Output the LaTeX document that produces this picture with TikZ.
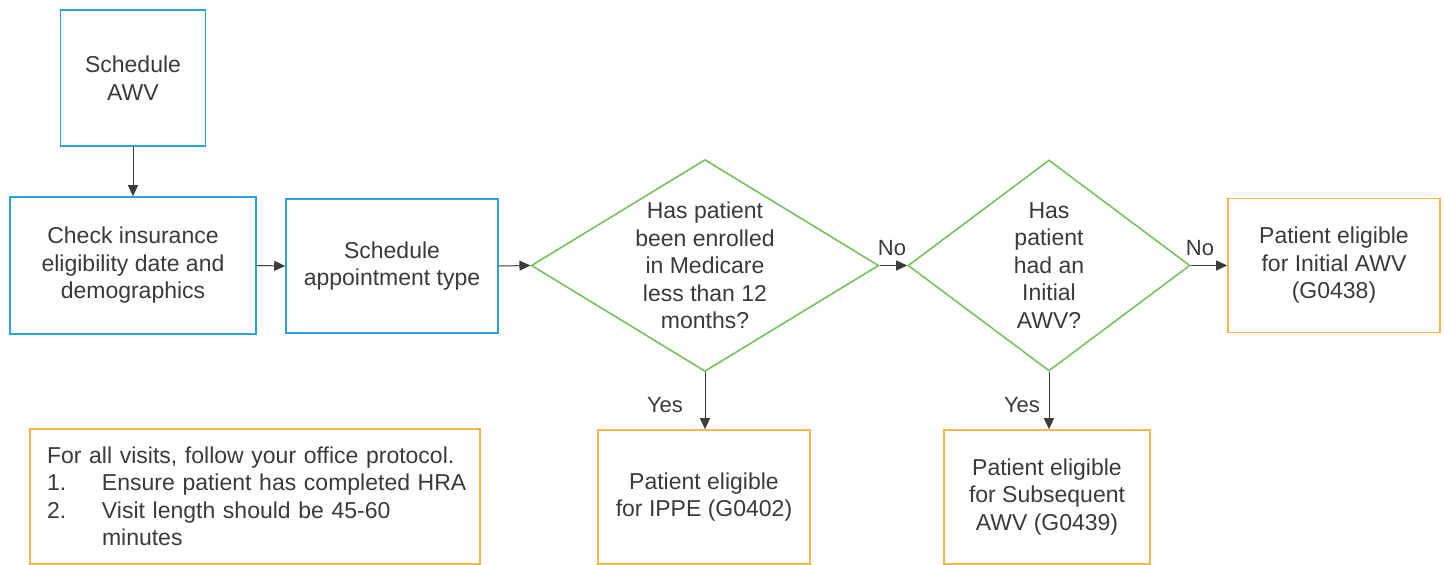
\documentclass[tikz,border=0pt]{standalone}
\usepackage{fontspec}
\setmainfont{Liberation Sans}
\usetikzlibrary{arrows.meta,positioning,shapes.geometric}
\definecolor{AWVBlue}{HTML}{2AA3DC}
\definecolor{AWVGreen}{HTML}{78C25E}
\definecolor{AWVOrange}{HTML}{FBB547}
\definecolor{AWVText}{HTML}{3A3A3A}
\definecolor{AWVLine}{HTML}{3C3C3C}

\begin{document}
\begin{tikzpicture}[
    x=1pt, y=-1pt,
    font=\fontsize{23}{27.5}\selectfont,
    text=AWVText,
    bluebox/.style={
      draw=AWVBlue,
      line width=1.6pt,
      minimum width=#1,
      inner sep=0pt,
      align=center
    },
    goalbox/.style={
      draw=AWVOrange,
      line width=1.6pt,
      minimum width=#1,
      minimum height=134pt,
      inner sep=0pt,
      align=center
    },
    question/.style={
      draw=AWVGreen,
      line width=1.6pt,
      diamond,
      inner sep=0pt,
      align=center,
      minimum height=211pt
    },
    arr/.style={
      -{Triangle[length=11pt,width=10pt]},
      line width=1pt,
      color=AWVLine
    },
    answer/.style={
      font=\fontsize{22}{26}\selectfont,
      inner sep=0pt
    }
  ]
  \useasboundingbox (0,0) rectangle (1444,565);

  \node[bluebox=145pt, minimum height=136pt] (sawv)  at (133,78)    {Schedule\\AWV};
  \node[bluebox=246pt, minimum height=137pt] (check) at (133,265.5) {Check insurance\\eligibility date and\\demographics};
  \node[bluebox=212pt, minimum height=134pt] (sched) at (392,266)   {Schedule\\appointment type};

  \node[question, aspect=1.64, minimum width=346pt] (q1) at (705,265.5)
    {Has patient\\been enrolled\\in Medicare\\less than 12\\months?};
  \node[question, aspect=1.34, minimum width=282pt] (q2) at (1049,265.5)
    {Has\\patient\\had an\\Initial\\AWV?};

  \node[goalbox=212pt] (initial) at (1334,265.5) {Patient eligible\\for Initial AWV\\(G0438)};
  \node[goalbox=212pt] (ippe)    at (704,497)    {Patient eligible\\for IPPE (G0402)};
  \node[goalbox=206pt] (subs)    at (1047,497)   {Patient eligible\\for Subsequent\\AWV (G0439)};

  % office protocol note
  \node[goalbox=450pt, minimum height=135pt, text width=416pt, inner xsep=17pt, align=left] (note) at (255,496.5)
    {\mbox{For all visits, follow your office protocol.}\\
     \makebox[55pt][l]{1.}\mbox{Ensure patient has completed HRA}\\
     \makebox[55pt][l]{2.}\mbox{Visit length should be 45-60}\\
     \hspace*{55pt}minutes};

  \foreach \a/\b in {check.east/sched.west, sched.east/q1.west,
                     q1.east/q2.west, q2.east/initial.west}
    \draw[arr] (\a) -- (\b);
  \foreach \a/\b in {sawv/check, q1/ippe, q2/subs}
    \draw[arr] (\a.south) -- (\a.south |- \b.north);

  \node[answer] (no1)  at (892,248)  {No};
  \node[answer] (no2)  at (1200,248) {No};
  \node[answer] (yes1) at (665,405)  {Yes};
  \node[answer] (yes2) at (1022,405) {Yes};

\end{tikzpicture}
\end{document}
